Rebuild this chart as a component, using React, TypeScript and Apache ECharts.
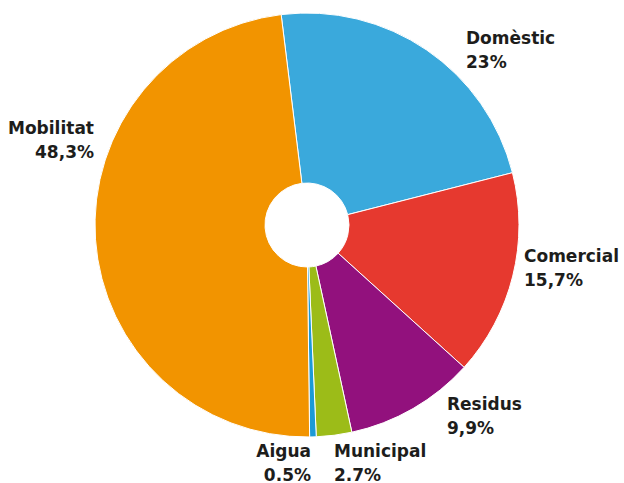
import React, { useEffect, useRef } from "react";
import * as echarts from "echarts";

const categories = ["Domèstic", "Comercial", "Residus", "Municipal", "Aigua", "Mobilitat"];
const values = [23, 15.7, 9.9, 2.7, 0.5, 48.3];
const valueLabels = ["23%", "15,7%", "9,9%", "2.7%", "0.5%", "48,3%"];
const colors = ["#3aa9dc", "#e6392f", "#92117d", "#9cbc18", "#1c9ad6", "#f29400"];

const labelAnchors = [
  { x: 466, y: 50, align: "left" },
  { x: 524, y: 268, align: "left" },
  { x: 447, y: 416, align: "left" },
  { x: 334, y: 463, align: "left" },
  { x: 311, y: 463, align: "right" },
  { x: 94, y: 140, align: "right" },
];

export default function App() {
  const ref = useRef<HTMLDivElement>(null);
  useEffect(() => {
    document.body.style.margin = "0";
    const chart = echarts.init(ref.current!, null, { renderer: "svg" });
    chart.setOption({
      animation: false,
      backgroundColor: "#ffffff",
      series: [
        {
          type: "pie",
          center: [307, 225],
          radius: [42, 212],
          startAngle: 97,
          clockwise: true,
          avoidLabelOverlap: false,
          itemStyle: { borderColor: "#ffffff", borderWidth: 1 },
          label: {
            show: true,
            position: "outside",
            color: "#1d1d1b",
            fontFamily: "DejaVu Sans",
            fontWeight: "bold",
            fontSize: 17,
            lineHeight: 24,
            formatter: (p: any) => `${p.name}\n${valueLabels[p.dataIndex]}`,
          },
          labelLine: { show: false },
          labelLayout: (p: any) => {
            const a = labelAnchors[p.dataIndex];
            return { x: a.x, y: a.y, align: a.align, verticalAlign: "middle" };
          },
          data: categories.map((c, i) => ({
            name: c,
            value: values[i],
            itemStyle: { color: colors[i] },
            label: { align: labelAnchors[i].align },
          })),
        },
      ],
    });
    return () => chart.dispose();
  }, []);
  return <div ref={ref} style={{ width: 624, height: 483 }} />;
}
